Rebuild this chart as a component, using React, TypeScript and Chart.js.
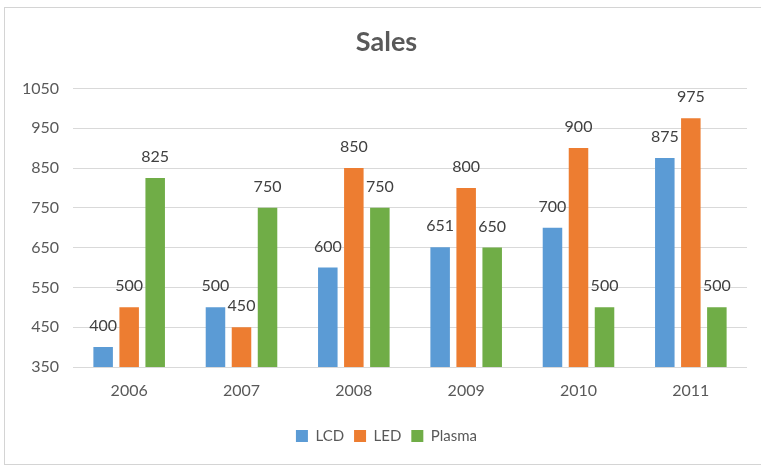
import React, { useEffect, useRef } from "react";
import { Chart, registerables } from "chart.js";

Chart.register(...registerables);

const categories = ["2006", "2007", "2008", "2009", "2010", "2011"];
const lcd = [400, 500, 600, 651, 700, 875];
const led = [500, 450, 850, 800, 900, 975];
const plasma = [825, 750, 750, 650, 500, 500];
const seriesNames = ["LCD", "LED", "Plasma"];
const seriesColors = ["#5B9BD5", "#ED7D31", "#70AD47"];
const yMin = 350;
const yMax = 1050;
const yStep = 100;

const FONT = "Lato, 'Open Sans', sans-serif";

const dataLabelPlugin = {
  id: "dataLabels",
  afterDatasetsDraw(chart: any) {
    const ctx = chart.ctx;
    ctx.save();
    ctx.font = `16px ${FONT}`;
    ctx.fillStyle = "#404040";
    ctx.textAlign = "center";
    ctx.textBaseline = "alphabetic";
    chart.data.datasets.forEach((ds: any, i: number) => {
      const meta = chart.getDatasetMeta(i);
      meta.data.forEach((bar: any, j: number) => {
        ctx.fillText(String(ds.data[j]), bar.x, bar.y - 16);
      });
    });
    ctx.restore();
  },
};

// centre title and legend on the chart frame rather than on the canvas
const shiftBoxesPlugin = {
  id: "shiftBoxes",
  afterLayout(chart: any) {
    const dx = 13;
    [chart.titleBlock, chart.legend].forEach((b: any) => {
      if (b) {
        b.left += dx;
        b.right += dx;
      }
    });
  },
};

export default function App() {
  const ref = useRef<HTMLCanvasElement>(null);
  useEffect(() => {
    document.body.style.margin = "0";
    const values = [lcd, led, plasma];
    const chart = new Chart(ref.current as HTMLCanvasElement, {
      type: "bar",
      data: {
        labels: categories,
        datasets: seriesNames.map((name, i) => ({
          label: name,
          data: values[i],
          backgroundColor: seriesColors[i],
          borderWidth: 0,
          barPercentage: 0.75,
          categoryPercentage: 0.695,
        })),
      },
      options: {
        responsive: false,
        animation: false,
        layout: { padding: { left: 0, right: 14, top: 0, bottom: 14.5 } },
        plugins: {
          tooltip: { enabled: false },
          title: {
            display: true,
            text: "Sales",
            color: "#595959",
            font: { family: FONT, size: 27, weight: "bold", lineHeight: 1.2 },
            padding: { top: 26, bottom: 30 },
          },
          legend: {
            position: "bottom",
            labels: {
              boxWidth: 12,
              boxHeight: 12,
              padding: 10,
              color: "#595959",
              font: { family: FONT, size: 15 },
            },
          },
        },
        scales: {
          x: {
            grid: { display: false, drawTicks: false },
            border: { display: false },
            ticks: { color: "#595959", font: { family: FONT, size: 16 }, padding: 14 },
            afterFit: (s: any) => {
              s.height = 51.5;
            },
          },
          y: {
            min: yMin,
            max: yMax,
            grid: { color: "#d9d9d9", lineWidth: 1, drawTicks: false },
            border: { display: false },
            ticks: {
              stepSize: yStep,
              color: "#595959",
              font: { family: FONT, size: 16 },
              padding: 14,
              callback: (v: any) => String(v),
            },
            afterFit: (s: any) => {
              s.width = 73;
            },
          },
        },
      },
      plugins: [dataLabelPlugin, shiftBoxesPlugin],
    });
    return () => chart.destroy();
  }, []);
  return (
    <div style={{ position: "fixed", left: 0, top: 0, width: 761, height: 468, background: "#fff", overflow: "hidden" }}>
      <div
        style={{
          position: "absolute",
          left: 4,
          top: 7,
          width: 800,
          height: 458,
          border: "1px solid #d4d4d4",
          boxSizing: "border-box",
        }}
      />
      <canvas ref={ref} width={761} height={468} style={{ position: "absolute", left: 0, top: 0 }} />
    </div>
  );
}
